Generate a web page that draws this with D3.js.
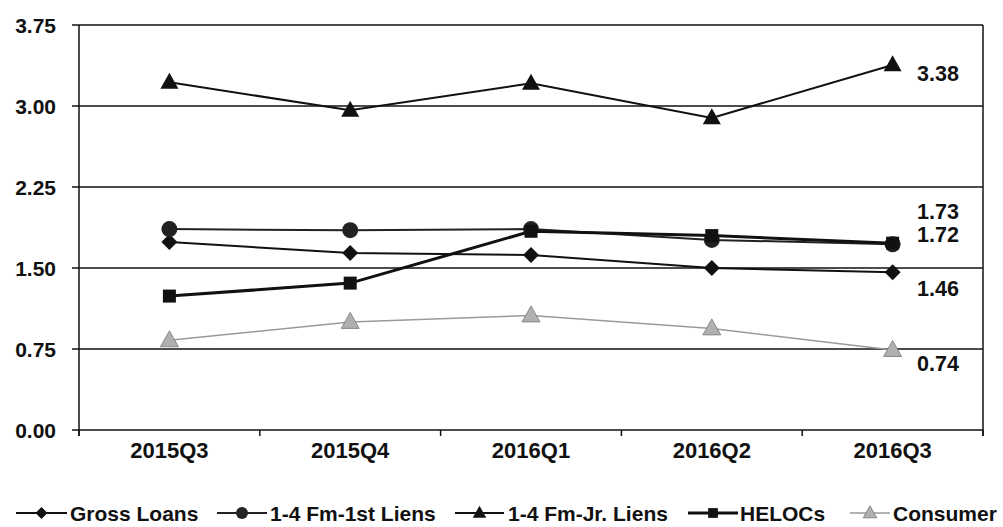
<!DOCTYPE html>
<html>
<head>
<meta charset="utf-8">
<script src="https://cdn.jsdelivr.net/npm/d3@7"></script>
<style>
  html, body { margin: 0; padding: 0; background: #fff; }
  svg { display: block; }
  text { font-family: "Liberation Sans", Arial, sans-serif; font-weight: bold; fill: #111; }
</style>
</head>
<body>
<svg id="chart" width="1003" height="527"></svg>
<script>
const categories = ["2015Q3", "2015Q4", "2016Q1", "2016Q2", "2016Q3"];
const yTicks = [0, 0.75, 1.5, 2.25, 3.0, 3.75];
const grossLoans = [1.74, 1.64, 1.62, 1.50, 1.46];
const firstLiens = [1.86, 1.85, 1.86, 1.76, 1.72];
const jrLiens = [3.22, 2.96, 3.21, 2.89, 3.38];
const helocs = [1.24, 1.36, 1.84, 1.80, 1.73];
const consumer = [0.83, 1.00, 1.06, 0.94, 0.74];
const endLabels = ["3.38", "1.73", "1.72", "1.46", "0.74"];
const endLabelValues = [3.30, 2.03, 1.81, 1.31, 0.62];

const series = [
  { name: "Gross Loans", values: grossLoans, shape: "diamond", stroke: "#111", width: 2, fill: "#111" },
  { name: "1-4 Fm-1st Liens", values: firstLiens, shape: "circle", stroke: "#222", width: 2, fill: "#222" },
  { name: "1-4 Fm-Jr. Liens", values: jrLiens, shape: "triangle", stroke: "#111", width: 2, fill: "#111" },
  { name: "HELOCs", values: helocs, shape: "square", stroke: "#111", width: 3, fill: "#111" },
  { name: "Consumer", values: consumer, shape: "triangle", stroke: "#9a9a9a", width: 1.5, fill: "#b0b0b0", outline: "#777" }
];

const svg = d3.select("#chart");
const pLeft = 79, pRight = 983, pTop = 25, pBottom = 430;

const x = d3.scaleBand().domain(categories).range([pLeft, pRight]);
const y = d3.scaleLinear().domain([0, 3.75]).range([pBottom, pTop]);
const cx = c => x(c) + x.bandwidth() / 2;

// gridlines + y ticks
svg.append("g").selectAll("line").data(yTicks).join("line")
  .attr("x1", pLeft - 7).attr("x2", pRight)
  .attr("y1", d => y(d)).attr("y2", d => y(d))
  .attr("stroke", "#111").attr("stroke-width", 1.5);

// y labels
svg.append("g").selectAll("text").data(yTicks).join("text")
  .attr("x", 56).attr("y", d => y(d))
  .attr("dy", "0.36em").attr("text-anchor", "end")
  .attr("font-size", 21)
  .text(d => d.toFixed(2));

// y axis line and right border
svg.append("line").attr("x1", pLeft).attr("x2", pLeft).attr("y1", pTop).attr("y2", pBottom + 6)
  .attr("stroke", "#111").attr("stroke-width", 1.5);
svg.append("line").attr("x1", pRight).attr("x2", pRight).attr("y1", pTop).attr("y2", pBottom + 6)
  .attr("stroke", "#111").attr("stroke-width", 1.5);

// x ticks at band edges
const edges = categories.map(c => x(c)).concat([pRight]);
svg.append("g").selectAll("line").data(edges).join("line")
  .attr("x1", d => d).attr("x2", d => d)
  .attr("y1", pBottom).attr("y2", pBottom + 6)
  .attr("stroke", "#111").attr("stroke-width", 1.5);

// x labels
const xAxis = d3.axisBottom(x).tickSize(0).tickPadding(0);
const gx = svg.append("g").attr("transform", `translate(0,${pBottom})`).call(xAxis);
gx.select(".domain").remove();
gx.selectAll("text").attr("font-size", 22).attr("y", 20).attr("dy", "0.36em")
  .style("font-family", "'Liberation Sans', Arial, sans-serif").style("font-weight", "bold").attr("fill", "#111");

function drawMarker(g, shape, px, py, scale) {
  const k = scale || 1;
  if (shape === "circle") {
    return g.append("circle").attr("cx", px).attr("cy", py).attr("r", 8 * k);
  } else if (shape === "diamond") {
    const r = 8 * k;
    return g.append("path").attr("d", `M${px},${py - r}L${px + r},${py}L${px},${py + r}L${px - r},${py}Z`);
  } else if (shape === "square") {
    const h = 6.5 * k;
    return g.append("rect").attr("x", px - h).attr("y", py - h).attr("width", 2 * h).attr("height", 2 * h);
  } else {
    const w = 9 * k, hh = 16 * k;
    return g.append("path").attr("d", `M${px},${py - hh * 0.6}L${px + w},${py + hh * 0.4}L${px - w},${py + hh * 0.4}Z`);
  }
}

const line = d3.line().x((d, i) => cx(categories[i])).y(d => y(d));

series.forEach(s => {
  const g = svg.append("g");
  g.append("path").datum(s.values).attr("d", line)
    .attr("fill", "none").attr("stroke", s.stroke).attr("stroke-width", s.width);
  s.values.forEach((v, i) => {
    drawMarker(g, s.shape, cx(categories[i]), y(v))
      .attr("fill", s.fill).attr("stroke", s.outline || "none").attr("stroke-width", 0.8);
  });
});

// end labels
svg.append("g").selectAll("text").data(endLabels).join("text")
  .attr("x", 917).attr("y", (d, i) => y(endLabelValues[i]))
  .attr("dy", "0.36em").attr("font-size", 21.5)
  .text(d => d);

// legend
const legendPos = [
  { lx: 16, lw: 51, tx: 70 },
  { lx: 217, lw: 50, tx: 270 },
  { lx: 455, lw: 49, tx: 508 },
  { lx: 688, lw: 50, tx: 740 },
  { lx: 850, lw: 40, tx: 893 }
];
const ly = 513;
series.forEach((s, i) => {
  const p = legendPos[i];
  const g = svg.append("g");
  g.append("line").attr("x1", p.lx).attr("x2", p.lx + p.lw).attr("y1", ly).attr("y2", ly)
    .attr("stroke", s.stroke).attr("stroke-width", s.width);
  drawMarker(g, s.shape, p.lx + p.lw / 2, ly, 0.75)
    .attr("fill", s.fill).attr("stroke", s.outline || "none").attr("stroke-width", 0.8);
  g.append("text").attr("x", p.tx).attr("y", ly).attr("dy", "0.36em")
    .attr("font-size", 21).text(s.name);
});
</script>
</body>
</html>
